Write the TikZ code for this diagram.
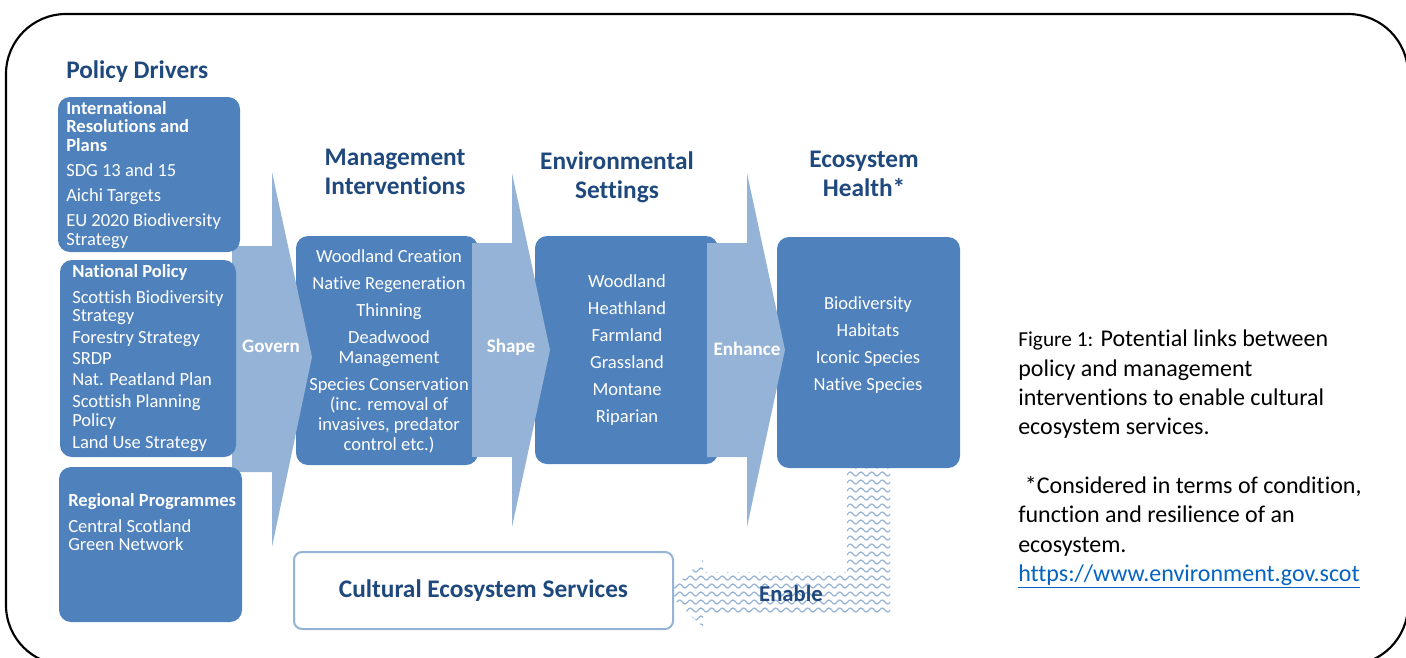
\documentclass[tikz,border=0pt]{standalone}
\usepackage{fontspec}
\setmainfont{Carlito}[Ligatures=CommonOff]
\usetikzlibrary{positioning,decorations.pathmorphing}

\definecolor{boxblue}{HTML}{4F81BD}
\definecolor{arrowblue}{HTML}{95B3D7}
\definecolor{headblue}{HTML}{1F497D}
\definecolor{linkblue}{HTML}{0563C1}

\tikzset{box/.style={fill=boxblue, rounded corners=9pt, inner sep=0pt}}
\tikzset{boxtext/.style={text=white, inner sep=0pt, align=left, font=\fontsize{13.9}{13.9}\selectfont}}
\tikzset{listtext/.style={text=white, inner sep=0pt, align=center, font=\fontsize{13.9}{15}\selectfont}}
\tikzset{heading/.style={text=headblue, inner sep=0pt, align=center, font=\fontsize{19}{21.75}\selectfont\bfseries}}
\tikzset{flow/.style={fill=arrowblue}}
\tikzset{verb/.style={text=white, inner sep=0pt, font=\fontsize{14.3}{16}\selectfont\bfseries}}
\tikzset{wave/.style={draw=arrowblue, line width=0.9pt, decorate,
    decoration={snake, segment length=8pt, amplitude=1.5pt}}}

\begin{document}
\begin{tikzpicture}[x=0.75pt, y=-0.75pt]
  \useasboundingbox (0,0) rectangle (1406,657);
  \clip (0,0) rectangle (1406,657);
  \draw[line width=1.6pt, rounded corners=45pt] (6,14) rectangle (1408,665);

  % middle columns
  \node[box, minimum width=136.5pt, minimum height=171.75pt] (mgmt) at (387,350.5) {};
  \node[box, minimum width=137.25pt, minimum height=171pt] (env) at (626.5,350) {};
  \node[box, minimum width=137.25pt, minimum height=173.25pt] (eco) at (868.5,352.5) {};

  % block arrows
  \fill[flow] (232,246) -- (272,246) -- (272,172) -- (312,357) -- (272,547) -- (272,472) -- (232,472) -- cycle;
  \fill[flow] (472,243) -- (512,243) -- (512,173) -- (550,350) -- (512,527) -- (512,457) -- (472,457) -- cycle;
  \fill[flow] (707,243) -- (747,243) -- (747,173) -- (785,350) -- (747,527) -- (747,457) -- (707,457) -- cycle;

  % policy drivers
  \node[box, minimum width=136.5pt, minimum height=116.25pt] (intl) at (149,174.5) {};
  \node[box, minimum width=132pt, minimum height=147.75pt] (natl) at (148,358.5) {};
  \node[box, minimum width=137.25pt, minimum height=116.25pt] (regl) at (150.5,544.5) {};

  \node[heading, anchor=base west] (drivers) at (66,78) {Policy Drivers};
  \node[boxtext, anchor=north west] (intltext) at (66,101)
    {\textbf{International}\\\textbf{Resolutions and}\\\textbf{Plans}\\[5pt]
     SDG 13 and 15\\[5pt]Aichi Targets\\[5pt]EU 2020 Biodiversity\\Strategy};
  \node[boxtext, anchor=north west] (natltext) at (72,264)
    {\textbf{National Policy}\\[5.5pt]Scottish Biodiversity\\Strategy\\[2.5pt]
     Forestry Strategy\\[2pt]SRDP\\[2pt]Nat. Peatland Plan\\[2.5pt]
     Scottish Planning\\Policy\\[2.5pt]Land Use Strategy};
  \node[boxtext, anchor=north west] (regltext) at (68,493)
    {\textbf{Regional Programmes}\\[5.5pt]Central Scotland\\Green Network};

  % column titles and lists
  \node[heading, anchor=north] (mgmttitle) at (395,149) {Management\\Interventions};
  \node[heading, anchor=north] (envtitle) at (617,151) {Environmental\\Settings};
  \node[heading, anchor=north] (ecotitle) at (864,151) {Ecosystem\\Health*};

  \node[listtext, anchor=north] (mgmtlist) at (389,249)
    {Woodland Creation\\[5.25pt]Native Regeneration\\[5.25pt]Thinning\\[5.25pt]
     Deadwood\\Management\\[5.25pt]Species Conservation\\(inc. removal of\\
     invasives, predator\\control etc.)};
  \node[listtext, anchor=north] (envlist) at (627,274)
    {Woodland\\[5.25pt]Heathland\\[5.25pt]Farmland\\[5.25pt]Grassland\\[5.25pt]
     Montane\\[5.25pt]Riparian};
  \node[listtext, anchor=north] (ecolist) at (868,296)
    {Biodiversity\\[5.25pt]Habitats\\[5.25pt]Iconic Species\\[5.25pt]Native Species};

  \node[verb] (govern) at (271,346) {Govern};
  \node[verb] (shape) at (511,347) {Shape};
  \node[verb] (enhance) at (747,349) {Enhance};

  % enable arrow, wavy fill
  \begin{scope}
    \clip (847,468) -- (890,468) -- (890,615) -- (703,615) -- (703,627) -- (667,593)
      -- (703,560) -- (703,572) -- (847,572) -- cycle;
    \foreach \y in {466,474,...,634}
      \draw[wave] (655,\y) -- (900,\y);
  \end{scope}
  \node[text=headblue, inner sep=0pt, font=\fontsize{17}{18}\selectfont\bfseries] (enable) at (791,594) {Enable};

  \node[draw=arrowblue, line width=1.5pt, fill=white, rounded corners=6pt,
    minimum width=284.25pt, minimum height=57.75pt, text=headblue,
    font=\fontsize{19}{20}\selectfont\bfseries] (ces) at (483.5,590.5) {Cultural Ecosystem Services};

  % caption
  \node[anchor=north west, align=left, inner sep=0pt, font=\fontsize{18}{22}\selectfont] (caption) at (1018,330)
    {{\fontsize{16}{18}\selectfont Figure 1:} Potential links between\\policy and management\\
     interventions to enable cultural\\ecosystem services.\\[22pt]
     \hspace{5pt}*Considered in terms of condition,\\function and resilience of an\\
     ecosystem.\\\textcolor{linkblue}{\underline{https://www.environment.gov.scot}}};
\end{tikzpicture}
\end{document}
